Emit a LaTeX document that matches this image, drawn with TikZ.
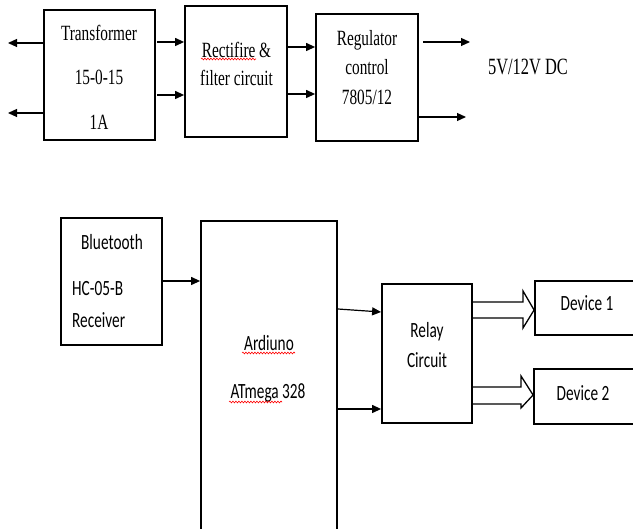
\documentclass[tikz,border=0pt]{standalone}
\usepackage{fontspec}
\usepackage{graphicx}
\setmainfont{Liberation Serif}
\newfontfamily\calfont{Carlito}
\usetikzlibrary{arrows.meta,calc,decorations.pathmorphing}
\newcommand{\tl}[1]{\scalebox{1}[1.42]{#1}}
\tikzset{
  box/.style={draw, line width=1.8pt, inner sep=0pt},
  arr/.style={-{Triangle[length=9pt,width=8pt]}, line width=1.2pt},
  blk/.style={line width=1.3pt, line join=miter},
  txt/.style={inner sep=0pt, font=\fontsize{15.3}{18}\selectfont},
  ctxt/.style={inner sep=0pt, font=\calfont\fontsize{15.3}{18}\selectfont},
  wavy/.style={draw=red, line width=0.6pt, decorate, decoration={snake, amplitude=0.9pt, segment length=3pt}}
}
\begin{document}
\begin{tikzpicture}[x=1pt,y=-1pt]
\useasboundingbox (0,0) rectangle (633,529);
\clip (0,0) rectangle (633,529);

% ---------- power supply ----------
\node[box, minimum width=111pt, minimum height=130pt] (tr) at (99.5,75) {};
\node[box, minimum width=102pt, minimum height=131pt] (rf) at (236,71.5) {};
\node[box, minimum width=102pt, minimum height=127pt] (rg) at (367,77.5) {};

\node[txt] (t1) at (99,33) {\tl{Transformer}};
\node[txt] (t2) at (99,77) {\tl{15-0-15}};
\node[txt] (t3) at (99,122) {\tl{1A}};
\node[txt] (r1) at (236.5,50) {\tl{Rectifire \&}};
\node[txt] (r2) at (236.5,78) {\tl{filter circuit}};
\node[txt] (g1) at (367,40) {\tl{Regulator}};
\node[txt] (g2) at (367,67) {\tl{control}};
\node[txt] (g3) at (367,97) {\tl{7805/12}};
\node[inner sep=0pt, font=\fontsize{16.4}{18}\selectfont] (dc) at (528,67) {\tl{5V/12V DC}};
\draw[wavy] (201,59) -- (256,59);

\coordinate (l1) at (8,43);
\coordinate (l2) at (8,113);
\coordinate (o1) at (470,42);
\coordinate (o2) at (466,117);
\draw[arr] (tr.west |- 0,43) -- (l1);
\draw[arr] (tr.west |- 0,113) -- (l2);
\draw[arr] (157,42) -- (rf.west |- 0,42);
\draw[arr] (157,95) -- (rf.west |- 0,95);
\draw[arr] (rf.east |- 0,47) -- (rg.west |- 0,47);
\draw[arr] (rf.east |- 0,94) -- (rg.west |- 0,94);
\draw[arr] (423,42) -- (o1);
\draw[arr] (rg.east |- 0,117) -- (o2);

% ---------- control ----------
\node[box, minimum width=101pt, minimum height=127pt] (bt) at (111.5,281.5) {};
\node[box, minimum width=136pt, minimum height=330pt] (ard) at (269,386) {};
\node[box, minimum width=90pt, minimum height=139pt] (rl) at (427,353.5) {};
\node[box, minimum width=120pt, minimum height=54pt] (d1) at (595,308) {};
\node[box, minimum width=120pt, minimum height=55pt] (d2) at (594,396.5) {};

\node[ctxt] (b1) at (112,242) {\tl{Bluetooth}};
\node[ctxt, anchor=west] (b2) at (72,289) {\tl{HC-05-B}};
\node[ctxt, anchor=west] (b3) at (72,320) {\tl{Receiver}};
\node[ctxt] (a1) at (269,343) {\tl{Ardiuno}};
\node[ctxt] (a2) at (268,393) {\tl{ATmega 328}};
\node[ctxt] (e1) at (427,332) {\tl{Relay}};
\node[ctxt] (e2) at (427,360) {\tl{Circuit}};
\node[ctxt] (v1) at (587,303) {\tl{Device 1}};
\node[ctxt] (v2) at (583,393) {\tl{Device 2}};
\draw[wavy] (242,353) -- (295,353);
\draw[wavy] (229,402) -- (282,402);

\draw[arr] (bt.east |- 0,281) -- (ard.west |- 0,281);
\draw[arr] (ard.east |- 0,309) -- (rl.west |- 0,312);
\draw[arr] (ard.east |- 0,409) -- (rl.west |- 0,409);

\draw[blk] (rl.east |- 0,302) -- (523,302) -- (523,291) -- (d1.west |- 0,310)
  -- (523,328) -- (523,318) -- (rl.east |- 0,318);
\draw[blk] (rl.east |- 0,387) -- (521,387) -- (521,376) -- (d2.west |- 0,395)
  -- (521,408) -- (521,404) -- (rl.east |- 0,404);
\end{tikzpicture}
\end{document}
